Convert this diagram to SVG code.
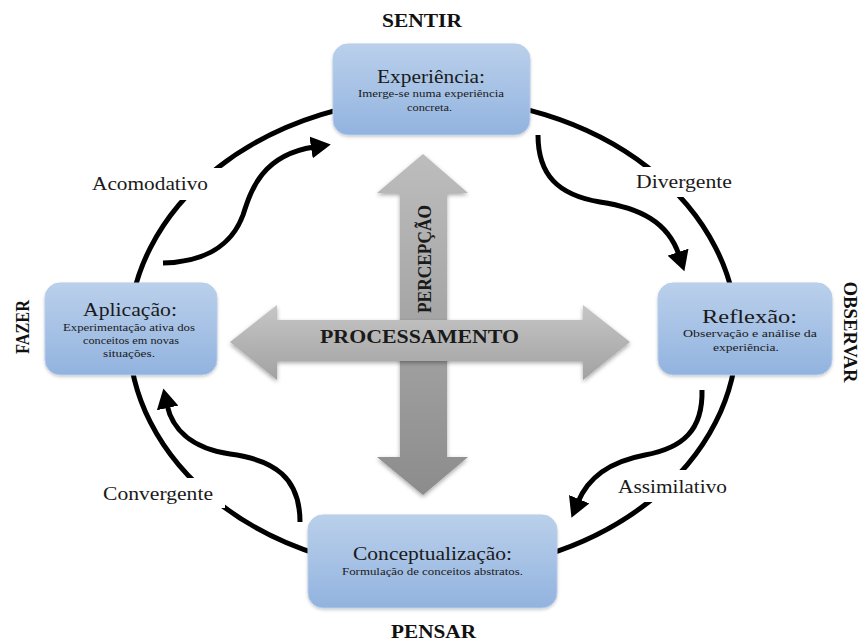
<svg xmlns="http://www.w3.org/2000/svg" width="861" height="644" viewBox="0 0 861 644">
  <defs>
    <linearGradient id="boxFill" x1="0" y1="0" x2="0" y2="1">
      <stop offset="0" stop-color="#bad0eb"/>
      <stop offset="1" stop-color="#92b3df"/>
    </linearGradient>
    <linearGradient id="vArrowFill" x1="0" y1="0" x2="0" y2="1">
      <stop offset="0" stop-color="#bdbdbd"/>
      <stop offset="1" stop-color="#8c8c8c"/>
    </linearGradient>
    <linearGradient id="hArrowFill" x1="0" y1="0" x2="0" y2="1">
      <stop offset="0" stop-color="#c6c6c6"/>
      <stop offset="0.6" stop-color="#b0b0b0"/>
      <stop offset="1" stop-color="#a2a2a2"/>
    </linearGradient>
    <filter id="softShadow" x="-10%" y="-10%" width="120%" height="130%">
      <feDropShadow dx="0" dy="2" stdDeviation="2" flood-color="#000" flood-opacity="0.35"/>
    </filter>
    <filter id="boxShadow" x="-10%" y="-10%" width="120%" height="130%">
      <feDropShadow dx="0" dy="1.5" stdDeviation="1.5" flood-color="#000" flood-opacity="0.2"/>
    </filter>
    <marker id="head" viewBox="0 0 22 22" markerWidth="22" markerHeight="22" refX="3" refY="11" orient="auto" markerUnits="userSpaceOnUse">
      <path d="M0,0 L20,11 L0,22 z" fill="#000"/>
    </marker>
    <style>
      .box { fill: url(#boxFill); stroke: #b5cdea; stroke-width: 1; filter: url(#boxShadow); }
      .title { font-family: "Liberation Serif", "Times New Roman", serif; font-size: 18px; fill: #1a1a1a; text-anchor: middle; }
      .sub { font-family: "Liberation Serif", "Times New Roman", serif; font-size: 10.5px; fill: #1a1a1a; text-anchor: middle; }
      .pole { font-family: "Liberation Serif", "Times New Roman", serif; font-size: 19px; font-weight: bold; fill: #111; text-anchor: middle; }
      .axis { font-family: "Liberation Serif", "Times New Roman", serif; font-size: 19px; font-weight: bold; fill: #1a1a1a; text-anchor: middle; }
      .lbl { font-family: "Liberation Serif", "Times New Roman", serif; font-size: 19px; fill: #1a1a1a; text-anchor: middle; }
      .cycle { fill: none; stroke: #000; stroke-width: 5; }
      .flow { fill: none; stroke: #000; stroke-width: 5; marker-end: url(#head); }
      .gap { fill: #fff; }
    </style>
  </defs>

  <rect width="861" height="644" fill="#fff"/>

  <!-- central axes: perception (vertical) and processing (horizontal) -->
  <g id="axes">
    <polygon points="423,154 468,193 447,193 447,457 468,457 423,495 377,457 400,457 400,193 377,193" fill="url(#vArrowFill)" filter="url(#softShadow)"/>
    <polygon points="230,342 277,305 277,320 583,320 583,305 630,342 583,380 583,361 277,361 277,380" fill="url(#hArrowFill)" filter="url(#softShadow)"/>
    <text class="axis" transform="translate(431,259) rotate(-90)" textLength="108" lengthAdjust="spacingAndGlyphs">PERCEPÇÃO</text>
    <text class="axis" x="419.5" y="343" textLength="199" lengthAdjust="spacingAndGlyphs">PROCESSAMENTO</text>
  </g>

  <!-- learning cycle and the four style transitions -->
  <g id="connectors">
    <ellipse class="cycle" cx="433" cy="335" rx="304" ry="237"/>
    <rect class="gap" x="80" y="168" width="146" height="32"/>
    <rect class="gap" x="632" y="167" width="108" height="30"/>
    <rect class="gap" x="612" y="470" width="123" height="32"/>
    <rect class="gap" x="95" y="478" width="130" height="30"/>

    <path class="flow" d="M163,263 C205,262 232,245 243,215 C251,190 262,155 314,147"/>
    <path class="flow" d="M538,135 C538,175 558,195 600,202 C640,208 668,222 679,255"/>
    <path class="flow" d="M702,390 C703,430 683,448 645,455 C608,462 588,478 578,502"/>
    <path class="flow" d="M300,522 C300,478 275,460 230,454 C190,448 172,428 167,405"/>

    <text class="lbl" x="150" y="190" textLength="116" lengthAdjust="spacingAndGlyphs">Acomodativo</text>
    <text class="lbl" x="684" y="188" textLength="96" lengthAdjust="spacingAndGlyphs">Divergente</text>
    <text class="lbl" x="672.5" y="493" textLength="109" lengthAdjust="spacingAndGlyphs">Assimilativo</text>
    <text class="lbl" x="158" y="500" textLength="110" lengthAdjust="spacingAndGlyphs">Convergente</text>
  </g>

  <!-- stage nodes -->
  <g id="experiencia">
    <rect class="box" x="333" y="44" width="197" height="91" rx="15"/>
    <text class="title" x="431" y="83" textLength="108" lengthAdjust="spacingAndGlyphs">Experiência:</text>
    <text class="sub" x="431" y="97" textLength="146" lengthAdjust="spacingAndGlyphs">Imerge-se numa experiência</text>
    <text class="sub" x="429.5" y="111" textLength="45" lengthAdjust="spacingAndGlyphs">concreta.</text>
  </g>

  <g id="reflexao">
    <rect class="box" x="658" y="283" width="174" height="92" rx="15"/>
    <text class="title" x="749.5" y="323" textLength="95" lengthAdjust="spacingAndGlyphs">Reflexão:</text>
    <text class="sub" x="750" y="337" textLength="134" lengthAdjust="spacingAndGlyphs">Observação e análise da</text>
    <text class="sub" x="746" y="351" textLength="66" lengthAdjust="spacingAndGlyphs">experiência.</text>
  </g>

  <g id="conceptualizacao">
    <rect class="box" x="308" y="515" width="249" height="93" rx="15"/>
    <text class="title" x="432.5" y="560" textLength="159" lengthAdjust="spacingAndGlyphs">Conceptualização:</text>
    <text class="sub" x="432.5" y="575" textLength="181" lengthAdjust="spacingAndGlyphs">Formulação de conceitos abstratos.</text>
  </g>

  <g id="aplicacao">
    <rect class="box" x="45" y="283" width="172" height="92" rx="15"/>
    <text class="title" x="130" y="316" textLength="94" lengthAdjust="spacingAndGlyphs">Aplicação:</text>
    <text class="sub" x="129" y="331" textLength="132" lengthAdjust="spacingAndGlyphs">Experimentação ativa dos</text>
    <text class="sub" x="131" y="344" textLength="96" lengthAdjust="spacingAndGlyphs">conceitos em novas</text>
    <text class="sub" x="129" y="357" textLength="52" lengthAdjust="spacingAndGlyphs">situações.</text>
  </g>

  <!-- poles of the two axes -->
  <g id="poles">
    <text class="pole" x="422" y="27" textLength="80" lengthAdjust="spacingAndGlyphs">SENTIR</text>
    <text class="pole" x="433.5" y="638" textLength="85" lengthAdjust="spacingAndGlyphs">PENSAR</text>
    <text class="pole" transform="translate(29,327) rotate(-90)" textLength="54" lengthAdjust="spacingAndGlyphs">FAZER</text>
    <text class="pole" transform="translate(844,332) rotate(90)" textLength="101" lengthAdjust="spacingAndGlyphs">OBSERVAR</text>
  </g>
</svg>
